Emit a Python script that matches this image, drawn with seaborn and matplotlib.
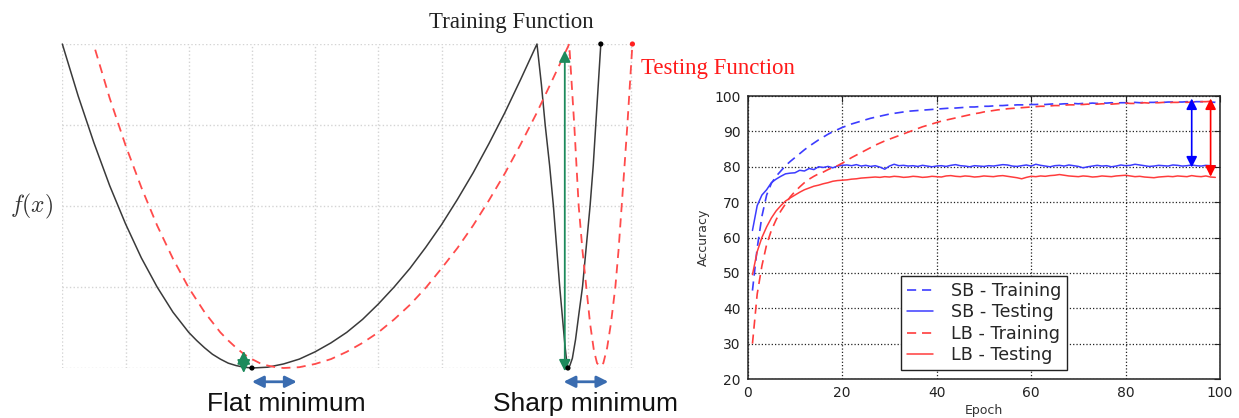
import matplotlib
matplotlib.use("Agg")
import matplotlib.pyplot as plt
import seaborn as sns

# ---- left panel: schematic loss curves (grid units) ----
train_x = [0.00, 0.25, 0.50, 0.75, 1.00, 1.25, 1.50, 1.75, 2.00, 2.125, 2.25, 2.375, 2.50,
           2.625, 2.75, 2.875, 3.00, 3.25, 3.50, 3.75, 4.00, 4.25, 4.50, 4.75, 5.00, 5.25,
           5.50, 5.75, 6.00, 6.25, 6.50, 6.75, 7.00, 7.25, 7.51, 7.58, 7.64, 7.71, 7.77,
           7.82, 7.87, 7.91, 7.95, 7.98, 8.00, 8.03, 8.07, 8.12, 8.17, 8.23, 8.29, 8.35,
           8.40, 8.44, 8.48, 8.52]
train_y = [4.00, 3.36, 2.78, 2.25, 1.78, 1.36, 1.00, 0.69, 0.44, 0.34, 0.25, 0.17, 0.11,
           0.06, 0.03, 0.01, 0.00, 0.01, 0.05, 0.11, 0.20, 0.31, 0.44, 0.60, 0.79, 1.00,
           1.23, 1.49, 1.77, 2.08, 2.41, 2.77, 3.15, 3.56, 4.00, 3.50, 3.00, 2.50, 2.00,
           1.50, 1.00, 0.65, 0.30, 0.08, 0.00, 0.03, 0.12, 0.35, 0.65, 1.00, 1.50, 2.00,
           2.50, 3.00, 3.50, 4.00]

test_x = [0.52, 0.75, 1.00, 1.25, 1.50, 1.75, 2.00, 2.25, 2.50, 2.625, 2.75, 2.875, 3.00,
          3.125, 3.25, 3.375, 3.50, 3.75, 4.00, 4.25, 4.50, 4.75, 5.00, 5.25, 5.50, 5.75,
          6.00, 6.25, 6.50, 6.75, 7.00, 7.25, 7.50, 7.75, 8.02, 8.06, 8.10, 8.17, 8.23,
          8.29, 8.35, 8.41, 8.46, 8.51, 8.56, 8.62, 8.68, 8.75, 8.80, 8.85, 8.90, 8.94,
          8.98, 9.02]
test_y = [3.93, 3.33, 2.75, 2.23, 1.76, 1.35, 0.99, 0.69, 0.44, 0.34, 0.25, 0.17, 0.11,
          0.06, 0.03, 0.01, 0.00, 0.01, 0.05, 0.11, 0.20, 0.31, 0.44, 0.60, 0.78, 0.99,
          1.23, 1.48, 1.76, 2.07, 2.40, 2.76, 3.14, 3.55, 4.00, 3.50, 3.00, 2.00, 1.45,
          1.00, 0.55, 0.22, 0.06, 0.02, 0.06, 0.25, 0.55, 1.00, 1.45, 2.00, 2.55, 3.00,
          3.50, 4.00]

dot_x = [3.00, 8.00, 8.52]
dot_y = [0.00, 0.00, 4.00]
red_dot_x = [9.02]
red_dot_y = [4.00]

# ---- right panel: accuracy per epoch ----
epochs = list(range(1, 100))
sb_train = [45, 57, 66, 72, 75.3, 77.3, 78.8, 80.3, 81.5, 82.6, 83.7, 84.8, 85.8, 86.7, 87.6,
            88.4, 89.2, 89.9, 90.5, 91.1, 91.6, 92.1, 92.5, 92.9, 93.3, 93.7, 94.0, 94.3,
            94.6, 94.9, 95.1, 95.3, 95.5, 95.7, 95.8, 95.9, 96.0, 96.1, 96.2, 96.3, 96.4,
            96.5, 96.6, 96.6, 96.7, 96.8, 96.9, 96.9, 97.0, 97.1, 97.1, 97.2, 97.3, 97.3,
            97.4, 97.4, 97.5, 97.5, 97.5, 97.6, 97.6, 97.7, 97.6, 97.7, 97.8, 97.7, 97.8,
            97.8, 97.9, 97.8, 97.9, 97.9, 98.0, 97.9, 98.0, 98.0, 98.1, 98.0, 98.1, 98.1,
            98.1, 98.2, 98.1, 98.2, 98.2, 98.2, 98.3, 98.2, 98.3, 98.3, 98.3, 98.3, 98.4,
            98.3, 98.4, 98.4, 98.4, 98.3, 98.2]
sb_test = [62, 69, 72, 73.5, 75.5, 76.5, 77.3, 78.0, 78.2, 78.3, 79.0, 78.8, 79.5, 79.2,
           80.0, 79.8, 80.1, 79.7, 80.2, 80.4, 80.5, 80.3, 80.6, 80.2, 80.4, 80.1, 80.3,
           79.9, 79.3, 80.2, 80.7, 80.3, 80.4, 80.2, 80.3, 80.1, 80.4, 80.2, 80.0, 80.2,
           80.3, 80.1, 80.4, 80.6, 80.3, 80.2, 80.0, 80.3, 80.2, 80.1, 80.3, 80.2, 80.4,
           80.6, 80.5, 80.2, 80.1, 80.3, 80.5, 80.2, 80.7, 80.4, 80.2, 80.0, 80.3, 80.4,
           80.2, 80.5, 80.3, 80.1, 79.7, 80.0, 80.2, 80.4, 80.2, 80.3, 80.0, 80.2, 80.5,
           80.3, 80.4, 80.7, 80.5, 80.3, 80.1, 80.2, 80.4, 80.3, 80.2, 80.5, 80.4, 80.2,
           80.3, 80.5, 80.3, 80.2, 80.4, 80.3, 80.2]
lb_train = [30, 44, 52, 58, 62, 65, 67.5, 69.5, 71.5, 73, 74.3, 75.5, 76.5, 77.3, 78.0,
            78.5, 79.2, 79.8, 80.3, 81.0, 81.8, 82.6, 83.3, 84.0, 84.7, 85.4, 86.1, 86.7,
            87.3, 87.8, 88.3, 88.8, 89.3, 89.8, 90.3, 90.8, 91.3, 91.7, 92.1, 92.5, 92.9,
            93.2, 93.5, 93.8, 94.1, 94.4, 94.7, 95.0, 95.2, 95.5, 95.7, 95.9, 96.1, 96.2,
            96.4, 96.5, 96.6, 96.7, 96.8, 96.9, 97.0, 97.1, 97.1, 97.2, 97.3, 97.3, 97.4,
            97.5, 97.5, 97.6, 97.6, 97.7, 97.6, 97.7, 97.8, 97.8, 97.7, 97.8, 97.9, 98.0,
            97.9, 97.9, 98.0, 98.1, 98.0, 98.1, 98.1, 98.2, 98.1, 98.2, 98.2, 98.3, 98.2,
            98.3, 98.3, 98.4, 98.4, 98.5, 98.4]
lb_test = [49.5, 56, 60, 63, 65.5, 67.5, 69, 70.3, 71.2, 72, 72.8, 73.5, 74, 74.5, 74.8,
           75.2, 75.5, 75.9, 76.1, 76.2, 76.3, 76.5, 76.6, 76.8, 76.9, 77.0, 77.1, 77.0,
           77.2, 77.1, 77.3, 77.2, 77.0, 77.1, 77.3, 77.2, 77.0, 77.1, 77.3, 77.2, 77.1,
           77.4, 77.5, 77.3, 77.2, 77.4, 77.3, 77.1, 77.2, 77.4, 77.3, 77.2, 77.4, 77.5,
           77.3, 77.1, 76.9, 76.6, 77.0, 77.3, 77.2, 77.4, 77.3, 77.5, 77.6, 77.8, 77.6,
           77.4, 77.3, 77.2, 77.4, 77.3, 77.1, 77.2, 77.4, 77.3, 77.2, 77.4, 77.5, 77.6,
           77.4, 77.2, 77.3, 77.1, 77.0, 76.9, 77.1, 77.2, 77.3, 77.2, 77.4, 77.3, 77.2,
           77.5, 77.3, 77.2, 77.4, 77.1, 77.0]
series_labels = ["SB - Training", "SB - Testing", "LB - Training", "LB - Testing"]
x_ticks = [0, 20, 40, 60, 80, 100]
y_ticks = [20, 30, 40, 50, 60, 70, 80, 90, 100]

sns.set_style("white")
plt.rcParams["font.family"] = ["DejaVu Sans"]
plt.rcParams["mathtext.fontset"] = "cm"

fig = plt.figure(figsize=(12.39, 4.18), dpi=100)

# left schematic
ax1 = fig.add_axes([0.0503, 0.1196, 0.4614, 0.7751])
ax1.set_xlim(0, 9.045)
ax1.set_ylim(0, 4)
ax1.set_xticks(range(10))
ax1.set_yticks(range(5))
ax1.grid(True, color="#d4d4d4", linestyle=":", linewidth=1.0)
ax1.tick_params(length=0, labelbottom=False, labelleft=False)
for s in ax1.spines.values():
    s.set_visible(False)

green = "#1d8a5c"
steel = "#3a6cb0"
sns.lineplot(x=train_x, y=train_y, ax=ax1, color="#3a3a3a", linewidth=1.1,
             estimator=None, sort=False)
sns.lineplot(x=test_x, y=test_y, ax=ax1, color="#ff4b4b", linewidth=1.3,
             linestyle=(0, (5, 3.5)), estimator=None, sort=False)
for ln in ax1.lines:
    ln.set_clip_on(False)
sns.scatterplot(x=dot_x, y=dot_y, ax=ax1, color="black", s=14, zorder=6, clip_on=False,
                edgecolor="none")
sns.scatterplot(x=red_dot_x, y=red_dot_y, ax=ax1, color="#ff2020", s=14, zorder=6,
                clip_on=False, edgecolor="none")

def dbl_arrow(ax, p0, p1, color, lw, ms):
    ax.annotate("", xy=p1, xytext=p0, annotation_clip=False,
                arrowprops=dict(arrowstyle="<|-|>", color=color, lw=lw,
                                mutation_scale=ms, shrinkA=0, shrinkB=0))

dbl_arrow(ax1, (2.87, -0.06), (2.87, 0.21), green, 1.2, 20)
dbl_arrow(ax1, (7.95, -0.04), (7.95, 3.92), green, 1.3, 17)
dbl_arrow(ax1, (3.00, -0.17), (3.71, -0.17), steel, 2.0, 17)
dbl_arrow(ax1, (7.93, -0.17), (8.64, -0.17), steel, 2.0, 17)

fig.text(0.413, 0.932, "Training Function", ha="center", va="baseline",
         family="Liberation Serif", fontsize=16.5, color="#222222")
fig.text(0.5174, 0.823, "Testing Function", ha="left", va="baseline",
         family="Liberation Serif", fontsize=16.5, color="#ff1a1a")
fig.text(0.0428, 0.505, "$f(x)$", ha="right", va="center", fontsize=17, color="#333333")
# bottom captions: kept just inside the canvas
fig.text(0.2312, 0.016, "Flat minimum", ha="center", va="baseline",
         family="Liberation Sans", fontsize=19, color="#111111")
fig.text(0.4726, 0.016, "Sharp minimum", ha="center", va="baseline",
         family="Liberation Sans", fontsize=19, color="#111111")

# right accuracy chart
ax2 = fig.add_axes([0.6035, 0.0933, 0.3812, 0.677])
blue = "#3c3cff"
red = "#ff3c3c"
sns.lineplot(x=epochs, y=sb_train, ax=ax2, color=blue, linewidth=1.2,
             linestyle=(0, (5.5, 3.5)), label=series_labels[0], estimator=None)
sns.lineplot(x=epochs, y=sb_test, ax=ax2, color=blue, linewidth=1.1,
             label=series_labels[1], estimator=None)
sns.lineplot(x=epochs, y=lb_train, ax=ax2, color=red, linewidth=1.2,
             linestyle=(0, (5.5, 3.5)), label=series_labels[2], estimator=None)
sns.lineplot(x=epochs, y=lb_test, ax=ax2, color=red, linewidth=1.1,
             label=series_labels[3], estimator=None)

dbl_arrow(ax2, (94, 79.8), (94, 99.3), "#0000ff", 1.2, 16)
dbl_arrow(ax2, (98, 77.2), (98, 99.3), "#ff0000", 1.2, 16)

ax2.set_xlim(0, 100)
ax2.set_ylim(20, 100)
ax2.set_xticks(x_ticks)
ax2.set_yticks(y_ticks)
ax2.grid(True, color="#222222", linestyle=":", linewidth=0.9)
for s in ax2.spines.values():
    s.set_visible(True)
    s.set_color("#222222")
    s.set_linewidth(1.1)
ax2.tick_params(direction="in", top=True, right=True, length=4, width=0.8,
                colors="#222222", labelsize=10, pad=5)
ax2.set_xlabel("Epoch", fontsize=9, color="#333333", labelpad=3)
ax2.set_ylabel("Accuracy", fontsize=9, color="#333333", labelpad=3)
ax2.legend(loc="lower center", fancybox=False, edgecolor="#222222", framealpha=1,
           fontsize=12.6, handlelength=1.5, handletextpad=1.0, labelspacing=0.2,
           borderpad=0.35).get_frame().set_linewidth(1.0)

fig.savefig("out.png", dpi=100)
